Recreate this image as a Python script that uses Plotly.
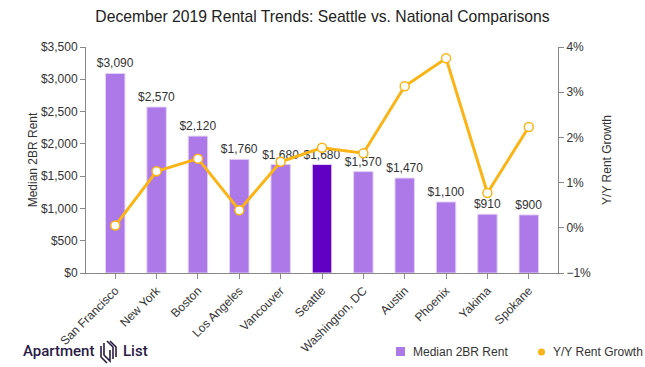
import plotly.graph_objects as go

cities = ["San Francisco", "New York", "Boston", "Los Angeles", "Vancouver", "Seattle",
          "Washington, DC", "Austin", "Phoenix", "Yakima", "Spokane"]
rent = [3090, 2570, 2120, 1760, 1680, 1680, 1570, 1470, 1100, 910, 900]
growth = [0.05, 1.25, 1.53, 0.39, 1.46, 1.77, 1.65, 3.13, 3.75, 0.77, 2.23]
legend_labels = ["Median 2BR Rent", "Y/Y Rent Growth"]

light = "#ad79e8"
dark = "#6100c2"
orange = "#fbb416"
bar_colors = [dark if c == "Seattle" else light for c in cities]

W, H = 645, 367
L, T, PW, PH = 86, 47, 472, 226


def px2p(x, y):
    return (x - L) / PW, (H - y - (H - T - PH)) / PH


fig = go.Figure()
fig.add_trace(go.Bar(
    x=cities, y=rent, name=legend_labels[0],
    marker=dict(color=bar_colors, line=dict(color="#e2d0f7", width=1)),
    text=[f"${v:,}" for v in rent], textposition="outside", constraintext="none",
    textfont=dict(size=12, color="#333333"), cliponaxis=False,
    showlegend=False, yaxis="y",
))
fig.add_trace(go.Scatter(
    x=cities, y=growth, name=legend_labels[1], mode="lines+markers",
    line=dict(color=orange, width=3),
    marker=dict(size=9, color="white", line=dict(color=orange, width=1.5)),
    showlegend=False, yaxis="y2", cliponaxis=False,
))

axis_font = dict(family="Liberation Sans, Arial, sans-serif", size=12, color="#333333")
fig.update_layout(
    width=W, height=H,
    margin=dict(l=L, r=W - L - PW, t=T, b=H - T - PH, autoexpand=False),
    paper_bgcolor="white", plot_bgcolor="white",
    font=axis_font,
    bargap=0.53,
    showlegend=False,
    title=dict(text="December 2019 Rental Trends: Seattle vs. National Comparisons",
               x=0.5, xanchor="center", y=1 - 17 / H, yanchor="middle",
               font=dict(size=15.7, color="#222222")),
    xaxis=dict(tickangle=-45, showline=True, linecolor="#888888", ticks="outside",
               ticklen=5, tickcolor="#888888", showgrid=False, tickfont=axis_font,
               automargin=False),
    yaxis=dict(range=[0, 3500], dtick=500, tickprefix="$", tickformat=",",
               showline=True, linecolor="#888888", ticks="outside", ticklen=5,
               tickcolor="#888888", showgrid=False, zeroline=False, automargin=False,
               title=dict(text="Median 2BR Rent", standoff=0, font=axis_font)),
    yaxis2=dict(range=[-1, 4], dtick=1, ticksuffix="%", overlaying="y", side="right",
                showline=True, linecolor="#888888", ticks="outside", ticklen=5,
                tickcolor="#888888", showgrid=False, zeroline=False, automargin=False,
                title=dict(text="Y/Y Rent Growth", standoff=12, font=axis_font)),
)

# manual legend
sx0, sy0 = px2p(396, 347)
sx1, sy1 = px2p(405, 356)
fig.add_shape(type="rect", x0=sx0, y0=sy0, x1=sx1, y1=sy1, xref="paper", yref="paper",
              fillcolor=light, line=dict(width=0))
cx0, cy0 = px2p(538, 348.5)
cx1, cy1 = px2p(545, 355.5)
fig.add_shape(type="circle", x0=cx0, y0=cy0, x1=cx1, y1=cy1, xref="paper", yref="paper",
              fillcolor=orange, line=dict(width=0))
for lab, px in zip(legend_labels, [411, 551]):
    ax, ay = px2p(px, 352)
    fig.add_annotation(text=lab, x=ax, y=ay, xref="paper", yref="paper",
                       xanchor="left", yanchor="middle", showarrow=False,
                       font=dict(size=12, color="#333333"))

# Logo: Apartment List
logo_color = "#2a1b47"
for word, px in [("Apartment", 21), ("List", 121)]:
    ax, ay = px2p(px, 351)
    fig.add_annotation(text=word, x=ax, y=ay, xref="paper", yref="paper",
                       xanchor="left", yanchor="middle", showarrow=False,
                       font=dict(size=15, color=logo_color, family="Roboto, sans-serif",
                                 weight=500))
icon_paths = [
    [(101, 346), (101, 357), (107, 363)],
    [(104, 343), (104, 355), (110, 361), (110, 350)],
    [(107, 341), (113, 347), (113, 359)],
    [(110, 341), (116, 347), (116, 357)],
]
for pts in icon_paths:
    path = "M " + " L ".join(f"{px2p(x, y)[0]:.4f},{px2p(x, y)[1]:.4f}" for x, y in pts)
    fig.add_shape(type="path", path=path, xref="paper", yref="paper",
                  line=dict(color=logo_color, width=1.6))

fig.write_html("out.html", config={"displayModeBar": False},
               post_script="document.body.style.margin='0px';")
